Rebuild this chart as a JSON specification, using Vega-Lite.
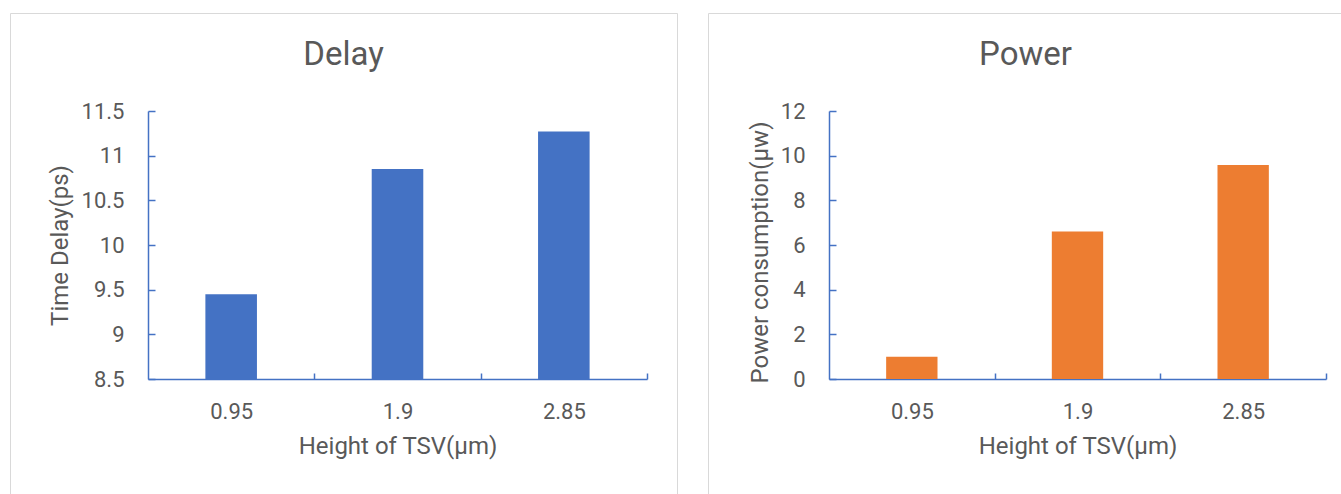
{
  "$schema": "https://vega.github.io/schema/vega-lite/v6.json",
  "padding": {"left": 9, "top": 12, "right": 0, "bottom": 0},
  "background": "white",
  "spacing": 29,
  "config": {
    "view": {"stroke": "#D9D9D9", "strokeWidth": 1, "fill": "white"},
    "font": "Roboto",
    "axis": {
      "domainColor": "#4472C4", "tickColor": "#4472C4", "domainWidth": 1.5, "tickWidth": 1.5,
      "labelColor": "#595959", "titleColor": "#595959", "labelFont": "Roboto", "titleFont": "Roboto",
      "labelFontSize": 22, "titleFontSize": 24, "titleFontWeight": "normal", "grid": false, "zindex": 1
    },
    "title": {"font": "Roboto", "fontSize": 33, "fontWeight": "normal", "color": "#595959", "anchor": "middle", "baseline": "alphabetic", "offset": -59}
  },
  "hconcat": [
    {
      "width": 667,
      "height": 490,
      "title": "Delay",
      "data": {"values": [
        {"height": "0.95", "delay": 9.45},
        {"height": "1.9", "delay": 10.85},
        {"height": "2.85", "delay": 11.27}
      ]},
      "mark": {"type": "bar", "color": "#4472C4"},
      "encoding": {
        "x": {
          "field": "height", "type": "nominal", "sort": null,
          "scale": {"range": [138, 637], "paddingInner": 0.69, "paddingOuter": 0.345},
          "axis": {"title": "Height of TSV(μm)", "labelAngle": 0, "offset": -124, "tickOffset": 83.17, "labelOffset": -83.17, "tickSize": -6, "labelPadding": 28, "titlePadding": 12}
        },
        "y": {
          "field": "delay", "type": "quantitative",
          "scale": {"domain": [8.5, 11.5], "range": [366, 98], "zero": false, "nice": false},
          "axis": {"title": "Time Delay(ps)", "values": [8.5, 9, 9.5, 10, 10.5, 11, 11.5], "format": ".1~f", "offset": -138, "tickSize": -7, "labelPadding": 31, "titlePadding": 9}
        },
        "y2": {"datum": 8.5}
      }
    },
    {
      "width": 645,
      "height": 490,
      "title": {"text": "Power", "frame": "group", "dx": -5},
      "data": {"values": [
        {"height": "0.95", "power": 1.0},
        {"height": "1.9", "power": 6.6},
        {"height": "2.85", "power": 9.58}
      ]},
      "mark": {"type": "bar", "color": "#ED7D31"},
      "encoding": {
        "x": {
          "field": "height", "type": "nominal", "sort": null,
          "scale": {"range": [121, 618], "paddingInner": 0.69, "paddingOuter": 0.345},
          "axis": {"title": "Height of TSV(μm)", "labelAngle": 0, "offset": -124, "tickOffset": 82.83, "labelOffset": -82.83, "tickSize": -6, "labelPadding": 28, "titlePadding": 12}
        },
        "y": {
          "field": "power", "type": "quantitative",
          "scale": {"domain": [0, 12], "range": [366, 98], "nice": false},
          "axis": {"title": "Power consumption(μw)", "values": [0, 2, 4, 6, 8, 10, 12], "format": "d", "offset": -121, "tickSize": -7, "labelPadding": 31, "titlePadding": 8, "titleY": 239}
        },
        "y2": {"datum": 0}
      }
    }
  ]
}
